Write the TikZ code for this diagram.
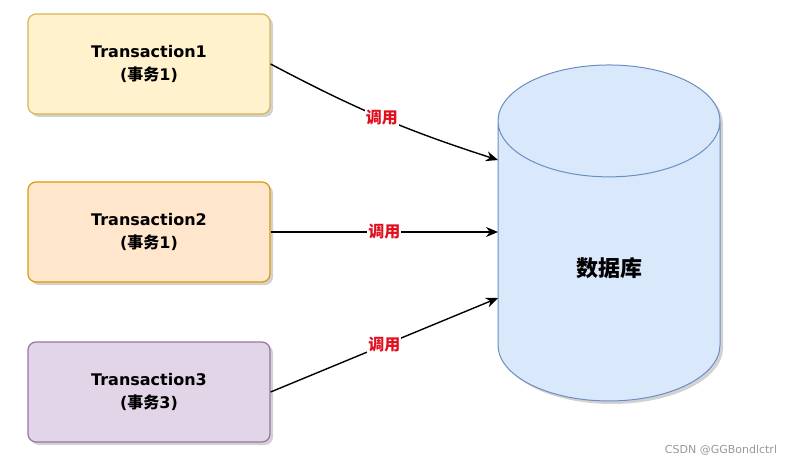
\documentclass[tikz,border=0pt]{standalone}
\usepackage{fontspec}
\setmainfont{DejaVu Sans}
\newfontfamily\cjk{Noto Sans CJK SC}
\usetikzlibrary{arrows.meta,shapes.geometric,shadows}
\definecolor{amarillo}{HTML}{FFF2CC}
\definecolor{amarilloB}{HTML}{D6B656}
\definecolor{naranja}{HTML}{FFE6CC}
\definecolor{naranjaB}{HTML}{D79B00}
\definecolor{lila}{HTML}{E1D5E7}
\definecolor{lilaB}{HTML}{9673A6}
\definecolor{azul}{HTML}{DAE8FC}
\definecolor{azulB}{HTML}{6C8EBF}
\definecolor{rojo}{HTML}{E0101E}
\newcommand{\zh}[1]{{\cjk\bfseries #1}}
\tikzset{
  caja/.style={draw, rounded corners=8pt, line width=1.2pt, minimum width=242pt,
    minimum height=100pt, align=center, font=\bfseries\fontsize{16}{23}\selectfont,
    drop shadow={shadow xshift=3pt, shadow yshift=-3pt, fill=black!35, opacity=.5}},
  llamada/.style={-{Stealth[length=12pt,width=10pt]}, line width=1.4pt},
  etiqueta/.style={fill=white, inner sep=1pt, text=rojo, font=\cjk\bfseries\fontsize{16}{18}\selectfont}
}
\begin{document}
\begin{tikzpicture}[x=1pt,y=1pt]
  \useasboundingbox (0,0) rectangle (795,464);
  % Transacciones
  \node[caja, fill=amarillo, draw=amarilloB] (t1) at (149,400) {Transaction1\\(\zh{事务}1)};
  \node[caja, fill=naranja, draw=naranjaB] (t2) at (149,232) {Transaction2\\(\zh{事务}1)};
  \node[caja, fill=lila, draw=lilaB] (t3) at (149,72) {Transaction3\\(\zh{事务}3)};

  % Base de datos
  \node[cylinder, shape border rotate=90, aspect=1.54, draw=azulB, fill=azul, line width=1pt,
    minimum width=222pt, minimum height=336pt, font=\cjk\bfseries\fontsize{22}{26}\selectfont,
    drop shadow={shadow xshift=3pt, shadow yshift=-3pt, fill=black!35, opacity=.5}] (db) at (609,196) {数据库};

  % Llamadas
  \coordinate (e1) at (498,304);
  \coordinate (e2) at (498,232);
  \coordinate (e3) at (498,166);
  \draw[llamada] (t1.east) to[bend right=5] node[etiqueta] {调用} (e1);
  \draw[llamada] (t2.east) -- node[etiqueta] {调用} (e2);
  \draw[llamada] (t3.east) -- node[etiqueta] {调用} (e3);

  \node[text=black!40, font=\fontsize{11}{13}\selectfont] (marca) at (721,14) {CSDN @GGBondlctrl};
\end{tikzpicture}
\end{document}
